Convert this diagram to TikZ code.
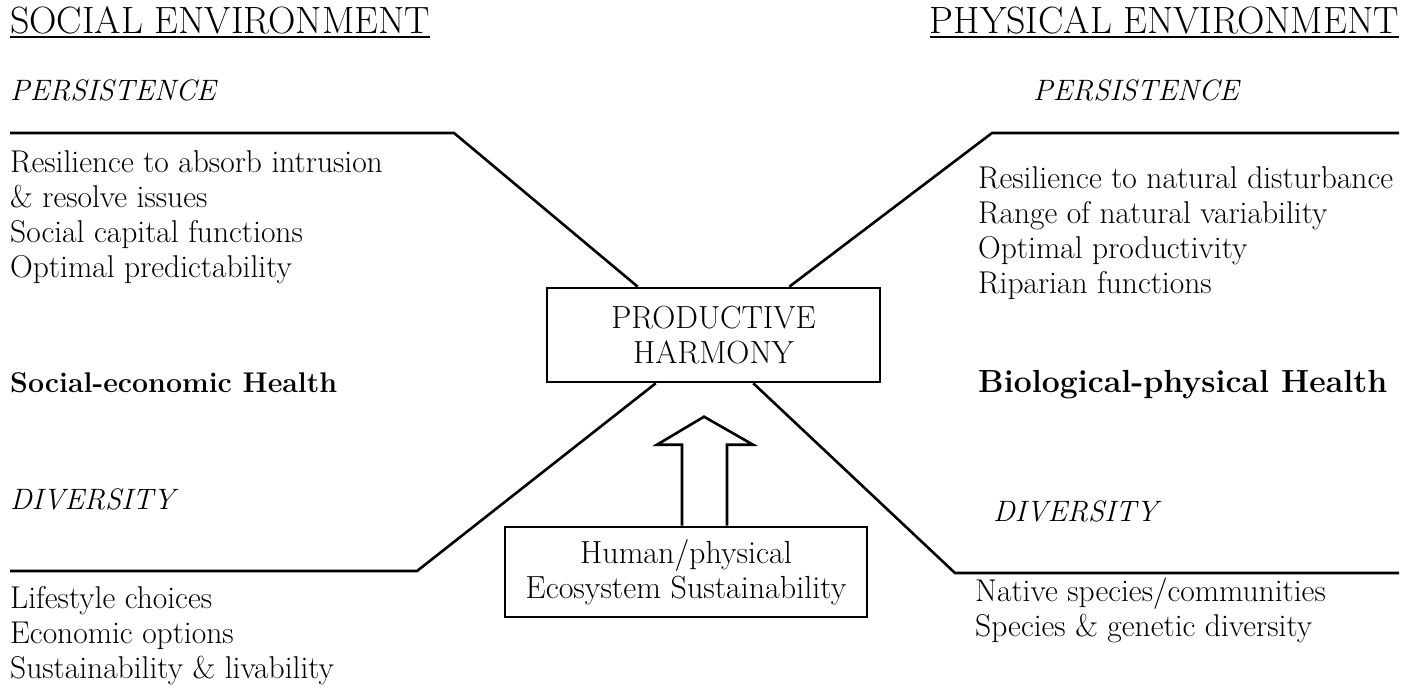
\documentclass[tikz,border=0pt]{standalone}
\usetikzlibrary{calc}
\begin{document}
\begin{tikzpicture}[x=1pt,y=-1pt,
  rule/.style={line width=2.6pt, line join=miter},
  hdr/.style={font=\fontsize{38}{44}\selectfont, inner sep=0pt},
  body/.style={font=\fontsize{31.5}{35}\selectfont, inner sep=0pt, align=left},
  ital/.style={font=\fontsize{29.5}{35}\selectfont\itshape, inner sep=0pt},
  bold/.style={font=\fontsize{#1}{35}\selectfont\bfseries, inner sep=0pt},
  box/.style={draw, line width=2.6pt, inner sep=0pt, align=center,
    font=\fontsize{32}{35}\selectfont}]
\useasboundingbox (0,0) rectangle (1420,688);

% headings
\node[hdr, anchor=base west] (se) at (10,33) {SOCIAL ENVIRONMENT};
\node[hdr, anchor=base east] (pe) at (1399,33) {PHYSICAL ENVIRONMENT};
\draw[line width=2pt] ($(se.base west)+(0,4)$) -- ($(se.base east)+(0,4)$);
\draw[line width=2pt] ($(pe.base west)+(0,4)$) -- ($(pe.base east)+(0,4)$);

% persistence (multi-line blocks are placed by their last baseline)
\node[ital, anchor=base west] (perL) at (10,100) {PERSISTENCE};
\node[ital, anchor=base west] (perR) at (1033,100) {PERSISTENCE};
\node[body, anchor=base west] (listSL) at (10,277)
  {Resilience to absorb intrusion\\ \& resolve issues\\ Social capital functions\\ Optimal predictability};
\node[body, anchor=base west] (listPR) at (978,293)
  {Resilience to natural disturbance\\ Range of natural variability\\ Optimal productivity\\ Riparian functions};

% health
\node[bold=28.5, anchor=base west] (seh) at (10,392) {Social-economic Health};
\node[bold=32, anchor=base west] (bph) at (978,392) {Biological-physical Health};

% diversity
\node[ital, anchor=base west] (divL) at (10,509) {DIVERSITY};
\node[ital, anchor=base west] (divR) at (993,521) {DIVERSITY};
\node[body, anchor=base west] (listDL) at (10,678)
  {Lifestyle choices\\ Economic options\\ Sustainability \& livability};
\node[body, anchor=base west] (listDR) at (975,636)
  {Native species/communities\\ Species \& genetic diversity};

% central boxes
\node[box, minimum width=333pt, minimum height=94pt] (ph) at (713.5,335) {PRODUCTIVE\\ HARMONY};
\node[box, minimum width=362pt, minimum height=90pt] (hes) at (686,572) {Human/physical\\ Ecosystem Sustainability};

% the four arms of the X
\coordinate (tlA) at (10,133);  \coordinate (tlB) at (454,133);
\coordinate (trA) at (1399,133); \coordinate (trB) at (992,133);
\coordinate (blA) at (10,571);  \coordinate (blB) at (417,571);
\coordinate (brA) at (1399,573); \coordinate (brB) at (955,573);
\draw[rule] (tlA) -- (tlB) -- ($(ph.north west)+(92,0)$);
\draw[rule] (trA) -- (trB) -- ($(ph.north east)+(-92,0)$);
\draw[rule] (blA) -- (blB) -- ($(ph.south west)+(110,0)$);
\draw[rule] (brA) -- (brB) -- ($(ph.south east)+(-128,0)$);

% hollow block arrow
\draw[rule] ($(hes.north)+(-4,0)$) -- ++(0,-81) -- ++(-25,0)
  -- ($(hes.north)+(18,-109)$) -- ($(hes.north)+(67,-81)$) -- ++(-26,0)
  -- ($(hes.north)+(41,0)$);
\end{tikzpicture}
\end{document}
